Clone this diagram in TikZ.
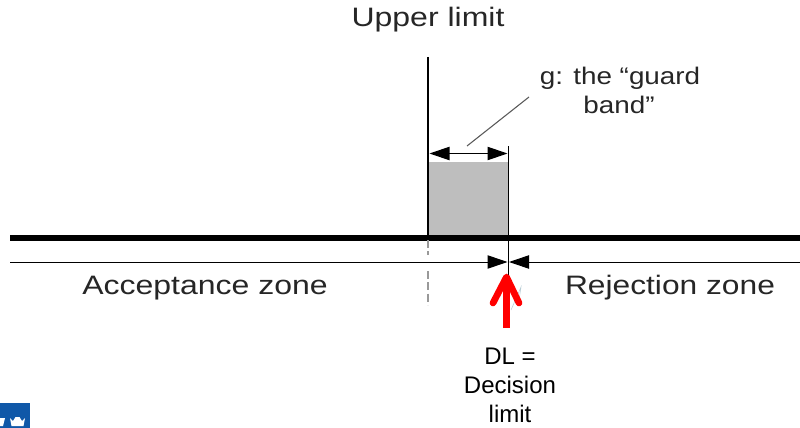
\documentclass[tikz,border=0pt]{standalone}
\usepackage{fontspec}
\setmainfont{Liberation Sans}
\usetikzlibrary{arrows.meta}
\definecolor{bandgray}{HTML}{BEBEBE}
\definecolor{crownblue}{HTML}{1058A8}
\newcommand{\wide}[2]{\scalebox{#1}[1]{#2}}
\tikzset{
 lbl/.style={inner sep=0pt,font=\fontsize{20}{22}\selectfont,text=black!85},
 lblguard/.style={inner sep=0pt,font=\fontsize{18}{20.5}\selectfont,text=black!85},
 lblsmall/.style={inner sep=0pt,font=\fontsize{18}{21.8}\selectfont,align=center},
 thinline/.style={line width=0.75pt,black},
 headtip/.tip={Triangle[length=15pt,width=10pt]},
 dashseg/.style={line width=1.8pt,gray!80,dash pattern=on 6pt off 2.5pt},
}
\begin{document}
\begin{tikzpicture}[x=0.75pt,y=-0.75pt]
\useasboundingbox (0,0) rectangle (800,428);
\fill[white] (0,0) rectangle (800,428);
% logo
\fill[crownblue] (0,403) rectangle (30,428);
\fill[white] (10,418) -- (13,421) -- (15.5,417) -- (19.5,417) -- (22,421) -- (25,418) -- (23.5,426) -- (11.5,426) -- cycle;
\fill[white] (0,418) -- (5,418) -- (3,426) -- (0,426) -- cycle;
% coordinates
\coordinate (topL) at (428,57);
\coordinate (baseL) at (428,238);
\coordinate (topR) at (508,146);
\coordinate (lowR) at (508,276);
\coordinate (lineLeft) at (10,238);
\coordinate (lineRight) at (800,238);
\coordinate (zoneLeft) at (10,262);
\coordinate (zoneRight) at (800,262);
\coordinate (tipL) at (507.5,262);
\coordinate (tipR) at (509,262);
\coordinate (dashTop) at (428,240);
\coordinate (dashMidA) at (428,255);
\coordinate (dashMidB) at (428,271);
\coordinate (dashBot) at (428,305);
\coordinate (arrStart) at (506.5,328);
\coordinate (arrEnd) at (506.5,277);
\coordinate (leadA) at (467,146);
\coordinate (leadB) at (529,97);
% band
\fill[bandgray] (429,162) rectangle (508,238);
% verticals
\draw[line width=2.2pt] (topL) -- (baseL);
\draw[thinline] (topR) -- (lowR);
\draw[line width=4.5pt] (lineLeft) -- (lineRight);
\draw[dashseg] (dashTop) -- (dashMidA);
\draw[dashseg] (dashMidB) -- (dashBot);
% zone line
\draw[thinline,-{headtip}] (zoneLeft) -- (tipL);
\draw[thinline,-{headtip}] (zoneRight) -- (tipR);
% guard band arrow
\draw[line width=0.9pt,{headtip}-{headtip}] (429.5,153.5) -- (507.5,153.5);
\draw[line width=0.8pt,black!65] (leadA) -- (leadB);
% scribble
\draw[line width=0.4pt,cyan!30!gray!50] (511,310) -- (521,287) -- (519,300);
% red arrow
\draw[red,line width=5pt,line cap=round,line join=round] (493,303) -- (arrEnd) -- (519,303);
\draw[red,line width=5pt] (arrStart) -- (506.5,280);
% labels
\node[lbl] (upper) at (428,20) {\wide{1.2}{Upper limit}};
\node[lblguard] (guard1) at (620,78) {\wide{1.16}{g: the “guard}};
\node[lblguard] (guard2) at (619,105) {\wide{1.16}{band”}};
\node[lbl] (acc) at (205,288) {\wide{1.2}{Acceptance zone}};
\node[lbl] (rej) at (670,288) {\wide{1.19}{Rejection zone}};
\node[lblsmall] (dl) at (510,385) {DL =\\Decision\\limit};
\end{tikzpicture}
\end{document}
